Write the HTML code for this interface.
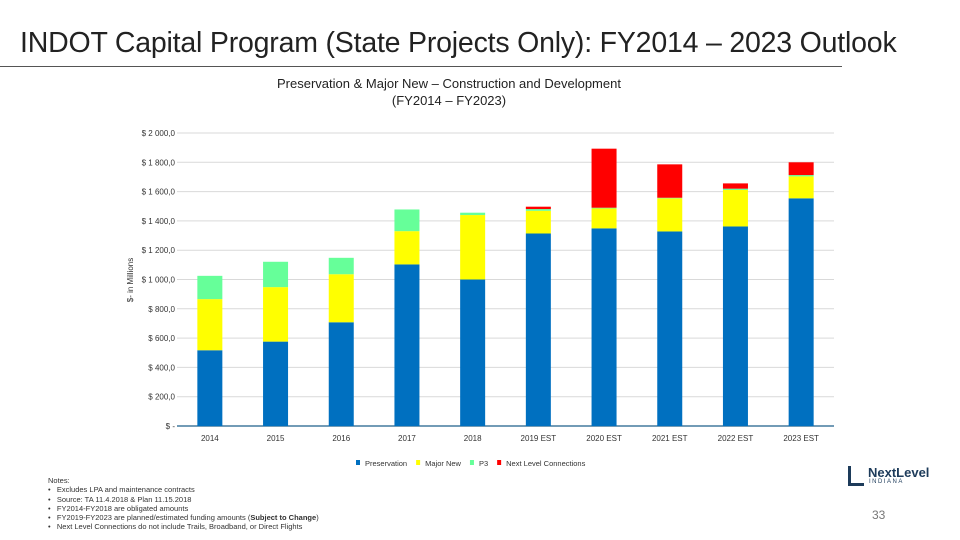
<!DOCTYPE html>
<html><head><meta charset="utf-8"><style>
body{margin:0;background:#fff;font-family:"Liberation Sans",sans-serif;}
#wrap{position:relative;width:960px;height:540px;overflow:hidden;background:#fff;}
.t{position:absolute;white-space:nowrap;}
</style></head><body>
<div id="wrap">
<div class="t" style="left:20px;top:27px;font-size:28.5px;color:#222;letter-spacing:-0.2px;">INDOT Capital Program (State Projects Only): FY2014 – 2023 Outlook</div>
<div style="position:absolute;left:0;top:66px;width:842px;height:1px;background:#555;"></div>
<div class="t" style="left:249px;top:75px;width:400px;text-align:center;font-size:13px;line-height:17px;color:#222;">Preservation &amp; Major New – Construction and Development<br>(FY2014 – FY2023)</div>
<svg id="chart" width="960" height="540" style="position:absolute;left:0;top:0;font-family:'Liberation Sans',sans-serif;"></svg>
<div class="t" style="left:48px;top:476px;font-size:7.5px;line-height:9.3px;color:#333;">Notes:<br>•&nbsp;&nbsp;&nbsp;Excludes LPA and maintenance contracts<br>•&nbsp;&nbsp;&nbsp;Source: TA 11.4.2018 &amp; Plan 11.15.2018<br>•&nbsp;&nbsp;&nbsp;FY2014-FY2018 are obligated amounts<br>•&nbsp;&nbsp;&nbsp;FY2019-FY2023 are planned/estimated funding amounts (<b>Subject to Change</b>)<br>•&nbsp;&nbsp;&nbsp;Next Level Connections do not include Trails, Broadband, or Direct Flights</div>
<div style="position:absolute;left:848px;top:466px;width:84px;height:22px;">
<div style="position:absolute;left:0;top:0;width:16px;height:20px;border-left:3px solid #1d3b5a;border-bottom:3px solid #1d3b5a;box-sizing:border-box;"></div>
<div class="t" style="left:20px;top:-1px;font-size:13px;font-weight:bold;color:#1d3b5a;">NextLevel</div>
<div class="t" style="left:21px;top:13px;font-size:6px;letter-spacing:1.5px;color:#1d3b5a;">INDIANA</div>
</div>
<div class="t" style="left:872px;top:508px;font-size:12px;color:#777;">33</div>
</div>
<script>
const categories=["2014","2015","2016","2017","2018","2019 EST","2020 EST","2021 EST","2022 EST","2023 EST"];
const preservation=[517,576,708,1103,1000,1314,1349,1328,1362,1554];
const majorNew=[349,372,328,227,440,155,136,226,249,150];
const p3=[159,173,112,148,16,12,5,4,9,9];
const nextLevel=[0,0,0,0,0,16,403,228,36,87];
const yTicks=[0,200,400,600,800,1000,1200,1400,1600,1800,2000];
const yTickLabels=["$ -","$ 200,0","$ 400,0","$ 600,0","$ 800,0","$ 1 000,0","$ 1 200,0","$ 1 400,0","$ 1 600,0","$ 1 800,0","$ 2 000,0"];
const seriesNames=["Preservation","Major New","P3","Next Level Connections"];
const NS="http://www.w3.org/2000/svg";
const svg=document.getElementById('chart');
const x0=177,x1=834,y0=426,y1=133,yMax=2000;
const band=(x1-x0)/categories.length,bw=25;
function y(v){return y0-(v/yMax)*(y0-y1);}
function xc(i){return x0+band*(i+0.5);}
function mk(tag,a){const e=document.createElementNS(NS,tag);for(const k in a)e.setAttribute(k,a[k]);svg.appendChild(e);return e;}
yTicks.forEach((v,i)=>{
 if(i>0){const g=mk('line',{x1:x0,x2:x1,y1:y(v),y2:y(v),stroke:'#d9d9d9','stroke-width':1});
 
 }
 const t=mk('text',{x:175,y:y(v)+3,'text-anchor':'end','font-size':8,fill:'#333'});
 t.textContent=yTickLabels[i];
 
 
});
const ax=mk('line',{x1:x0,x2:x1,y1:y0,y2:y0,stroke:'#1f5f8b','stroke-width':1.2});


const yt=mk('text',{x:0,y:0,'text-anchor':'middle','font-size':8,fill:'#333',transform:'translate(133,280) rotate(-90)'});
yt.textContent='$- in Millions';


const colors=['#0070c0','#ffff00','#66ff99','#ff0000'];
const series=[preservation,majorNew,p3,nextLevel];
categories.forEach((c,i)=>{
 let base=0;
 series.forEach((s,k)=>{
  const v=s[i];if(v<=0)return;
  const r=mk('rect',{x:xc(i)-bw/2,y:y(base+v),width:bw,height:y(base)-y(base+v),fill:colors[k]});
  
  
  base+=v;
 });
 const t=mk('text',{x:xc(i),y:y0+15,'text-anchor':'middle','font-size':8,fill:'#333'});
 t.textContent=c;
 
 
});
let lx=356;
seriesNames.forEach((n,k)=>{
 const r=mk('rect',{x:lx,y:460,width:4,height:5,fill:colors[k]});
 
 
 const t=mk('text',{x:lx+9,y:466,'font-size':7.5,fill:'#333'});
 t.textContent=n;
 
 
 lx+=9+t.getComputedTextLength()+9;
});
</script>
</body></html>
